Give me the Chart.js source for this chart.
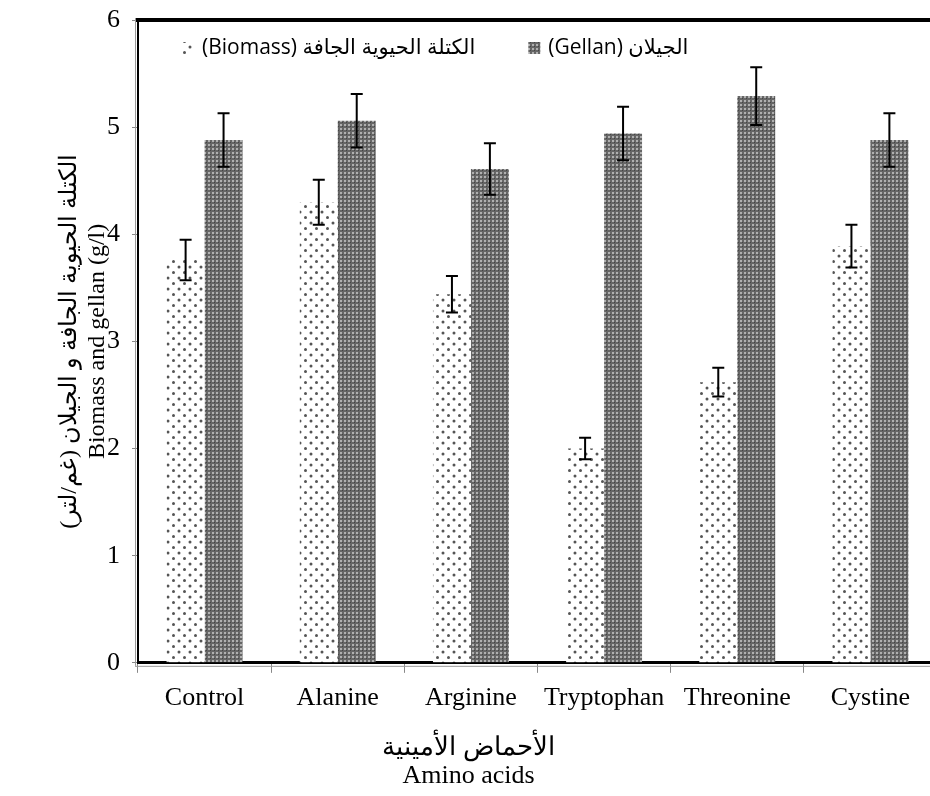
<!DOCTYPE html>
<html>
<head>
<meta charset="utf-8">
<script src="https://cdn.jsdelivr.net/npm/chart.js@4.4.1/dist/chart.umd.min.js"></script>
<style>
html, body { margin: 0; padding: 0; overflow: hidden; background: #fff; }
#wrap { width: 937px; height: 796px; position: relative; }
</style>
</head>
<body>
<div id="wrap"><canvas id="chart1"></canvas></div>
<script>
var categories = ["Control", "Alanine", "Arginine", "Tryptophan", "Threonine", "Cystine"]
var biomassValues = [3.76, 4.30, 3.44, 2.00, 2.62, 3.89]
var biomassErrors = [0.19, 0.21, 0.17, 0.10, 0.135, 0.20]
var gellanValues = [4.88, 5.06, 4.61, 4.94, 5.29, 4.88]
var gellanErrors = [0.25, 0.25, 0.24, 0.25, 0.27, 0.25]
var yTicks = [0, 1, 2, 3, 4, 5, 6]
var biomassLabel = "الكتلة الحيوية الجافة (Biomass)"
var gellanLabel = "الجيلان (Gellan)"
var yTitle = ["الكتلة الحيوية الجافة و الجيلان (غم/لتر)\u200F", "Biomass and gellan (g/l)"]
var xTitle = ["الأحماض الأمينية", "Amino acids"]

var serif = "'Liberation Serif', 'Times New Roman', serif"

function makeBiomassPattern(){
    var c = document.createElement("canvas")
    c.width = 11; c.height = 11
    var g = c.getContext("2d")
    g.fillStyle = "#fff"
    g.fillRect(0, 0, 11, 11)
    g.fillStyle = "#555"
    g.beginPath()
    g.arc(3, 3, 1.5, 0, Math.PI * 2)
    g.arc(8.5, 8.5, 1.5, 0, Math.PI * 2)
    g.fill()
    return c
}
function makeGellanPattern(){
    var c = document.createElement("canvas")
    c.width = 4; c.height = 4
    var g = c.getContext("2d")
    g.fillStyle = "#666"
    g.fillRect(0, 0, 4, 4)
    g.fillStyle = "#b0b0b0"
    g.fillRect(0, 0, 2, 2)
    g.fillStyle = "#444"
    g.fillRect(2, 2, 1, 1)
    return c
}

var ctx = document.getElementById("chart1").getContext("2d")
var biomassFill = ctx.createPattern(makeBiomassPattern(), "repeat")
var gellanFill = ctx.createPattern(makeGellanPattern(), "repeat")

// error bars from the arrays above
var errorBarPlugin = {
    id: "errorBars",
    afterDatasetsDraw: function(chart){
        var c = chart.ctx
        var yScale = chart.scales.y
        var errs = [biomassErrors, gellanErrors]
        c.save()
        c.strokeStyle = "#000"
        c.lineWidth = 2
        chart.data.datasets.forEach(function(ds, di){
            var meta = chart.getDatasetMeta(di)
            meta.data.forEach(function(bar, i){
                var v = ds.data[i]
                var e = errs[di][i]
                var yTop = yScale.getPixelForValue(v + e)
                var yBot = yScale.getPixelForValue(v - e)
                c.beginPath()
                c.moveTo(bar.x, yTop); c.lineTo(bar.x, yBot)
                c.moveTo(bar.x - 6, yTop); c.lineTo(bar.x + 6, yTop)
                c.moveTo(bar.x - 6, yBot); c.lineTo(bar.x + 6, yBot)
                c.stroke()
            })
        })
        c.restore()
    }
}

// frame lines and the legend inside the plot
var framePlugin = {
    id: "frame",
    afterDraw: function(chart){
        var c = chart.ctx
        var a = chart.chartArea
        c.save()
        c.strokeStyle = "#000"
        c.lineWidth = 4
        c.beginPath()
        c.moveTo(a.left - 2, a.top)
        c.lineTo(a.right, a.top)
        c.stroke()
        c.strokeStyle = "#999"
        c.lineWidth = 1
        c.beginPath()
        c.moveTo(a.left - 2.5, a.top - 2)
        c.lineTo(a.left - 2.5, a.bottom + 3)
        c.moveTo(a.left - 3, a.bottom + 3.5)
        c.lineTo(a.right, a.bottom + 3.5)
        c.stroke()

        // legend
        var items = [
            {label: chart.data.datasets[0].label, fill: biomassFill},
            {label: chart.data.datasets[1].label, fill: gellanFill}
        ]
        c.font = "21px 'Open Sans', 'DejaVu Sans', sans-serif"
        c.textBaseline = "middle"
        c.textAlign = "left"
        c.direction = "rtl"
        var x = a.left + 44
        var y = a.top + 28
        items.forEach(function(it){
            c.fillStyle = it.fill
            c.fillRect(x, y - 6, 12, 12)
            c.fillStyle = "#000"
            c.fillText(it.label, x + 20, y)
            x += 20 + c.measureText(it.label).width + 53
        })
        c.restore()
    }
}

new Chart(ctx, {
    type: "bar",
    data: {
        labels: categories,
        datasets: [
            {
                label: biomassLabel,
                data: biomassValues,
                backgroundColor: biomassFill,
                borderWidth: 0
            },
            {
                label: gellanLabel,
                data: gellanValues,
                backgroundColor: gellanFill,
                borderWidth: 0
            }
        ]
    },
    options: {
        responsive: true,
        maintainAspectRatio: false,
        animation: false,
        layout: {padding: {top: 20, left: 0, right: 0, bottom: 0}},
        datasets: {bar: {categoryPercentage: 0.57, barPercentage: 1.0}},
        scales: {
            x: {
                grid: {offset: true, drawOnChartArea: false, tickLength: 10, color: "#888", lineWidth: 1},
                border: {display: true, color: "#000", width: 3},
                ticks: {color: "#000", font: {family: serif, size: 26}, padding: 10, maxRotation: 0},
                afterFit: function(s){ s.height = 71; s.paddingLeft = 0; s.paddingRight = 0 }
            },
            y: {
                min: 0, max: 6,
                afterBuildTicks: function(s){ s.ticks = yTicks.map(function(v){ return {value: v} }) },
                grid: {drawOnChartArea: false, tickLength: 6, color: "#888", lineWidth: 1},
                border: {display: true, color: "#000", width: 2},
                ticks: {color: "#000", font: {family: serif, size: 26}, padding: 12},
                title: {display: true, text: yTitle, color: "#000", font: {family: serif, size: 24, lineHeight: 1.15}, padding: {top: 56, bottom: 0}},
                afterFit: function(s){ s.width = 138; s.paddingTop = 0; s.paddingBottom = 0 }
            }
        },
        plugins: {
            legend: {display: false},
            tooltip: {enabled: false},
            title: {display: true, position: "bottom", text: xTitle, color: "#000", font: {family: serif, size: 26, lineHeight: 1.08, weight: "normal"}, padding: {top: 0, bottom: 6}}
        }
    },
    plugins: [errorBarPlugin, framePlugin]
})
</script>
</body>
</html>
